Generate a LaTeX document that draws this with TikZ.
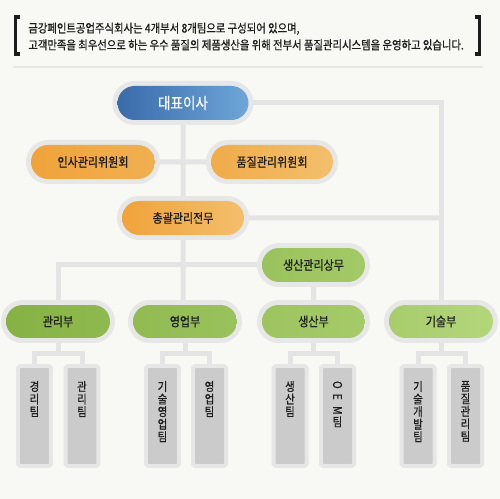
\documentclass[tikz,border=0pt]{standalone}
\usepackage{fontspec}
\usepackage{graphicx}
\setmainfont{Noto Sans CJK KR}[FakeStretch=0.86, FakeBold=0.7]
\usetikzlibrary{shapes.misc}

\definecolor{fondo}{HTML}{F8F8F4}
\definecolor{borde}{HTML}{E7E7E7}
\definecolor{gris}{HTML}{E4E4E4}
\definecolor{texto}{HTML}{1C1C1C}
\definecolor{azulA}{HTML}{3A6BAA}
\definecolor{azulB}{HTML}{6EA6D8}
\definecolor{narA}{HTML}{F0A33B}
\definecolor{narB}{HTML}{F3BF6C}
\definecolor{verA}{HTML}{86B244}
\definecolor{verB}{HTML}{B3D67A}
\definecolor{celda}{HTML}{CBCBCB}

\pgfdeclarelayer{base}
\pgfdeclarelayer{trazo}
\pgfsetlayers{base,trazo,main}

\newcommand{\columna}[1]{\parbox[c][1.4cm][t]{0.5cm}{\centering #1}}

\begin{document}
\begin{tikzpicture}[
        x=0.02cm, y=-0.02cm,
        cargo/.style={rounded rectangle, inner sep=0pt, minimum height=0.68cm, text=texto, font=\fontsize{7.3}{8}\selectfont, preaction={draw=borde, line width=0.2cm}},
        equipo/.style={rectangle, inner sep=0pt, minimum width=0.58cm, minimum height=1.92cm, fill=celda, rounded corners=0.5pt, text=texto, font=\fontsize{6.9}{7.15}\selectfont, preaction={draw=borde, line width=0.16cm}},
        linea/.style={draw=gris, line width=0.1cm},
        corchete/.style={draw=texto, line width=0.065cm}
    ]
        \useasboundingbox (0,0) rectangle (500,499);
        \begin{pgfonlayer}{base}
            \fill[fondo] (0,0) rectangle (500,499);
        \end{pgfonlayer}

        % encabezado
        \draw[corchete] (20,17) -- (15.8,17) -- (15.8,54) -- (20,54);
        \draw[corchete] (475,17) -- (479.8,17) -- (479.8,54) -- (475,54);
        \node[anchor=west, align=left, inner sep=0pt, text=texto, font=\fontsize{6.85}{9.6}\selectfont] (intro) at (28,36.5)
            {금강페인트공업주식회사는 4개부서 8개팀으로 구성되어 있으며,\\고객만족을 최우선으로 하는 우수 품질의 제품생산을 위해 전부서 품질관리시스템을 운영하고 있습니다.};
        \draw[draw=borde, line width=0.05cm] (13,67) -- (483,67);

        % cargos
        \node[cargo, left color=azulA, right color=azulB, minimum width=2.62cm, text=white, font=\fontsize{9}{10}\selectfont] (ceo) at (183,103) {대표이사};
        \node[cargo, left color=narA, right color=narA!55!narB, minimum width=2.48cm] (insa) at (93,162) {인사관리위원회};
        \node[cargo, left color=narA!70!narB, right color=narB, minimum width=2.44cm] (comite) at (272,162) {품질관리위원회};
        \node[cargo, left color=narA, right color=narB, minimum width=2.44cm] (gerente) at (183,218) {총괄관리전무};
        \node[cargo, left color=verA!55!verB, right color=verA!35!verB, minimum width=2.06cm] (prodjefe) at (313.5,265) {생산관리상무};

        % departamentos
        \node[cargo, left color=verA, right color=verA!80!verB, minimum width=2.08cm, minimum height=0.66cm] (admin) at (58,321.5) {관리부};
        \node[cargo, left color=verA!75!verB, right color=verA!55!verB, minimum width=2.08cm, minimum height=0.66cm] (ventas) at (185,321.5) {영업부};
        \node[cargo, left color=verA!50!verB, right color=verA!30!verB, minimum width=2.06cm, minimum height=0.66cm] (fab) at (313.5,321.5) {생산부};
        \node[cargo, left color=verA!25!verB, right color=verB, minimum width=2.08cm, minimum height=0.66cm] (tec) at (441,321.5) {기술부};

        % equipos
        \node[equipo] (t1) at (34.5,416) {\columna{경\\리\\팀}};
        \node[equipo] (t2) at (82,416) {\columna{관\\리\\팀}};
        \node[equipo] (t3) at (162.5,416) {\columna{기\\술\\영\\업\\팀}};
        \node[equipo] (t4) at (209.5,416) {\columna{영\\업\\팀}};
        \node[equipo] (t5) at (290,416) {\columna{생\\산\\팀}};
        \node[equipo] (t6) at (337.5,416) {\columna{\rotatebox{-90}{O}\\\rotatebox{-90}{E}\\\rotatebox{-90}{M}\\팀}};
        \node[equipo] (t7) at (418,416) {\columna{기\\술\\개\\발\\팀}};
        \node[equipo] (t8) at (465.5,416) {\columna{품\\질\\관\\리\\팀}};

        % conexiones
        \begin{pgfonlayer}{trazo}
            \draw[linea] (ceo) -- (ceo |- ventas);
            \draw[linea] (ceo) -| (tec);
            \draw[linea] (insa) -- (comite);
            \draw[linea] (gerente) -- (gerente -| tec);
            \draw[linea] (admin) |- (prodjefe);
            \draw[linea] (prodjefe) -- (fab);
            \draw[linea] (admin.south) -- ++(0,15) coordinate (j1);
            \draw[linea] (t1.north) |- (j1) -| (t2.north);
            \draw[linea] (ventas.south) -- ++(0,15) coordinate (j2);
            \draw[linea] (t3.north) |- (j2) -| (t4.north);
            \draw[linea] (fab.south) -- ++(0,15) coordinate (j3);
            \draw[linea] (t5.north) |- (j3) -| (t6.north);
            \draw[linea] (tec.south) -- ++(0,15) coordinate (j4);
            \draw[linea] (t7.north) |- (j4) -| (t8.north);
        \end{pgfonlayer}
    \end{tikzpicture}
\end{document}
